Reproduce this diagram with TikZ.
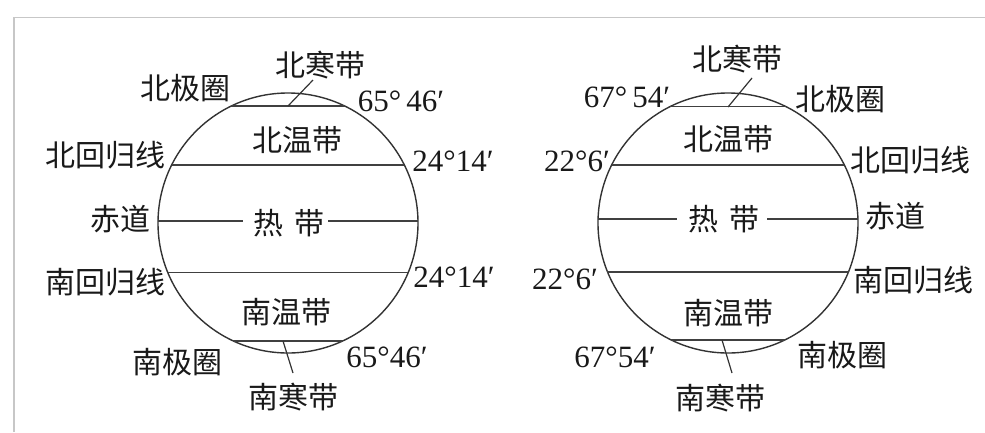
\documentclass[tikz,border=0pt]{standalone}
\usepackage{fontspec}
\setmainfont{Liberation Serif}
\newfontfamily\cjk{Noto Sans CJK SC}
\begin{document}
\begin{tikzpicture}[x=1pt,y=-1pt]
\tikzset{
  lbl/.style={inner sep=0pt, font=\cjk\fontsize{30}{30}\selectfont, text=black!90},
  num/.style={inner sep=0pt, font=\fontsize{31}{31}\selectfont, text=black!90},
  zline/.style={line width=1.5pt, draw=black!75},
  globe/.style={circle, draw=black!80, line width=1.4pt, minimum size=260pt, inner sep=0pt, outer sep=0pt},
  leader/.style={line width=1.2pt, draw=black!80},
  frame/.style={line width=1.8pt, draw=black!22}
}
\useasboundingbox (0,0) rectangle (985,432);
% frame
\coordinate (fa) at (14,432);
\coordinate (fb) at (14,17.5);
\coordinate (fc) at (985,17.5);
\draw[frame] (fa) -- (fb) -- (fc);

% ===== left globe =====
\node[globe] (Lg) at (288,223) {};
\draw[zline] (231.3,106) -- (344.7,106);
\draw[zline] (171.7,165) -- (404.3,165);
\draw[zline] (158,221) -- (243,221);
\draw[zline] (328,221) -- (418,221);
\draw[zline] (167.8,272.5) -- (408.2,272.5);
\draw[zline] (233.4,341) -- (342.6,341);

\node[lbl] (Lnh) at (320,65) {北寒带};
\node[lbl] (Lnq) at (185,88) {北极圈};
\node[num] (Ln1) at (401,101) {65°\,46′};
\node[lbl] (Lnw) at (297,140) {北温带};
\node[lbl] (Lnt) at (105,155) {北回归线};
\node[num] (Ln2) at (453,161) {24°14′};
\node[lbl] (Leq) at (120,219) {赤道};
\node[lbl] (Lrd) at (289,223) {热\hspace{11pt}带};
\node[lbl] (Lst) at (105,282) {南回归线};
\node[num] (Ls2) at (454,277) {24°14′};
\node[lbl] (Lsw) at (286,312) {南温带};
\node[lbl] (Lsq) at (177,362) {南极圈};
\node[num] (Ls1) at (387,357) {65°46′};
\node[lbl] (Lsh) at (293,397) {南寒带};
\coordinate (Lna) at (288,106);
\coordinate (Lnb) at (313,80);
\draw[leader] (Lna) -- (Lnb);
\coordinate (Lsa) at (283,341);
\coordinate (Lsb) at (293,373);
\draw[leader] (Lsa) -- (Lsb);

% ===== right globe =====
\node[globe] (Rg) at (728,223) {};
\draw[zline] (670.3,106.5) -- (785.7,106.5);
\draw[zline] (611.7,165) -- (844.3,165);
\draw[zline] (598,219) -- (677,219);
\draw[zline] (767,219) -- (858,219);
\draw[zline, line width=2pt] (607.4,271.5) -- (848.6,271.5);
\draw[zline] (671.3,340) -- (784.7,340);

\node[lbl] (Rnh) at (737,59) {北寒带};
\node[num] (Rn1) at (627,97) {67°\,54′};
\node[lbl] (Rnq) at (840,99) {北极圈};
\node[lbl] (Rnw) at (728,139) {北温带};
\node[num] (Rn2) at (577,161) {22°6′};
\node[lbl] (Rnt) at (910,160) {北回归线};
\node[lbl] (Rrd) at (724,219) {热\hspace{11pt}带};
\node[lbl] (Req) at (895,216) {赤道};
\node[num] (Rs2) at (565,279) {22°6′};
\node[lbl] (Rst) at (913,280) {南回归线};
\node[lbl] (Rsw) at (728,313) {南温带};
\node[num] (Rs1) at (615,357) {67°54′};
\node[lbl] (Rsq) at (842,355) {南极圈};
\node[lbl] (Rsh) at (720,398) {南寒带};
\coordinate (Rna) at (728,107);
\coordinate (Rnb) at (752,78);
\draw[leader] (Rna) -- (Rnb);
\coordinate (Rsa) at (722,340);
\coordinate (Rsb) at (732,373);
\draw[leader] (Rsa) -- (Rsb);
\end{tikzpicture}
\end{document}
